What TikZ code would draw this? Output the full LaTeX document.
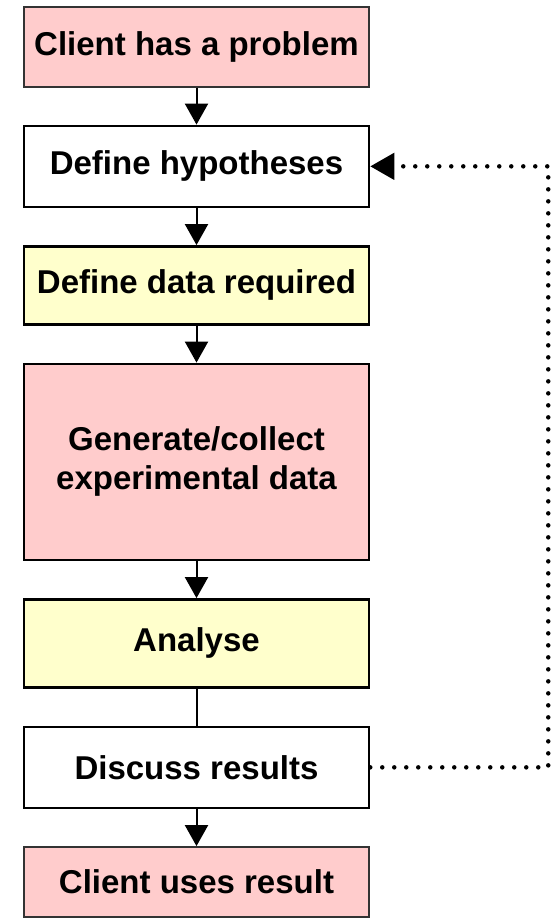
\documentclass[tikz,border=0pt]{standalone}
\usepackage{fontspec}
\setmainfont{Liberation Sans}
\usepackage{xcolor}
\usetikzlibrary{arrows.meta, positioning}
\definecolor{boxpink}{HTML}{FFCCCC}
\definecolor{boxyellow}{HTML}{FFFFCC}

\begin{document}
\begin{tikzpicture}[
                x=1pt, y=1pt,
                node distance=37pt,
                box/.style={draw, line width=2.5pt, align=center, inner sep=0pt, minimum width=345pt, minimum height=78pt, font=\fontsize{33}{39}\selectfont\bfseries},
                pinkbox/.style={box, fill=boxpink},
                yellowbox/.style={box, fill=boxyellow},
                arrow/.style={-{Triangle[length=21pt, width=23pt]}, line width=2pt},
                feedback/.style={-{Triangle[length=24pt, width=26pt]}, line width=4.5pt, line cap=round, dash pattern=on 0pt off 12pt}
            ]
                \useasboundingbox (0,0) rectangle (551,-919);

                \node[pinkbox, line width=1.2pt, draw=black!80, minimum height=80pt] (problem) at (196.5,-47) {Client has a problem};
                \node[box, minimum height=81pt, below=of problem] (hyp) {Define hypotheses};
                \node[yellowbox, below=of hyp] (need) {Define data required};
                \node[pinkbox, minimum height=196pt, below=of need] (collect) {Generate/collect\\experimental data};
                \node[yellowbox, minimum height=88pt, below=of collect] (analyse) {Analyse};
                \node[box, minimum height=81pt, below=of analyse] (discuss) {Discuss results};
                \node[pinkbox, line width=2pt, draw=black!80, minimum height=70pt, below=of discuss] (use) {Client uses result};

                \draw[arrow] (problem) -- (hyp);
                \draw[arrow] (hyp) -- (need);
                \draw[arrow] (need) -- (collect);
                \draw[arrow] (collect) -- (analyse);
                \draw[line width=2pt] (analyse) -- (discuss);
                \draw[arrow] (discuss) -- (use);

                % feedback loop on the right
                \coordinate (turn) at ([xshift=178pt]hyp.east);
                \draw[feedback] (discuss.east) -| (turn) -- (hyp.east);
            \end{tikzpicture}
\end{document}
